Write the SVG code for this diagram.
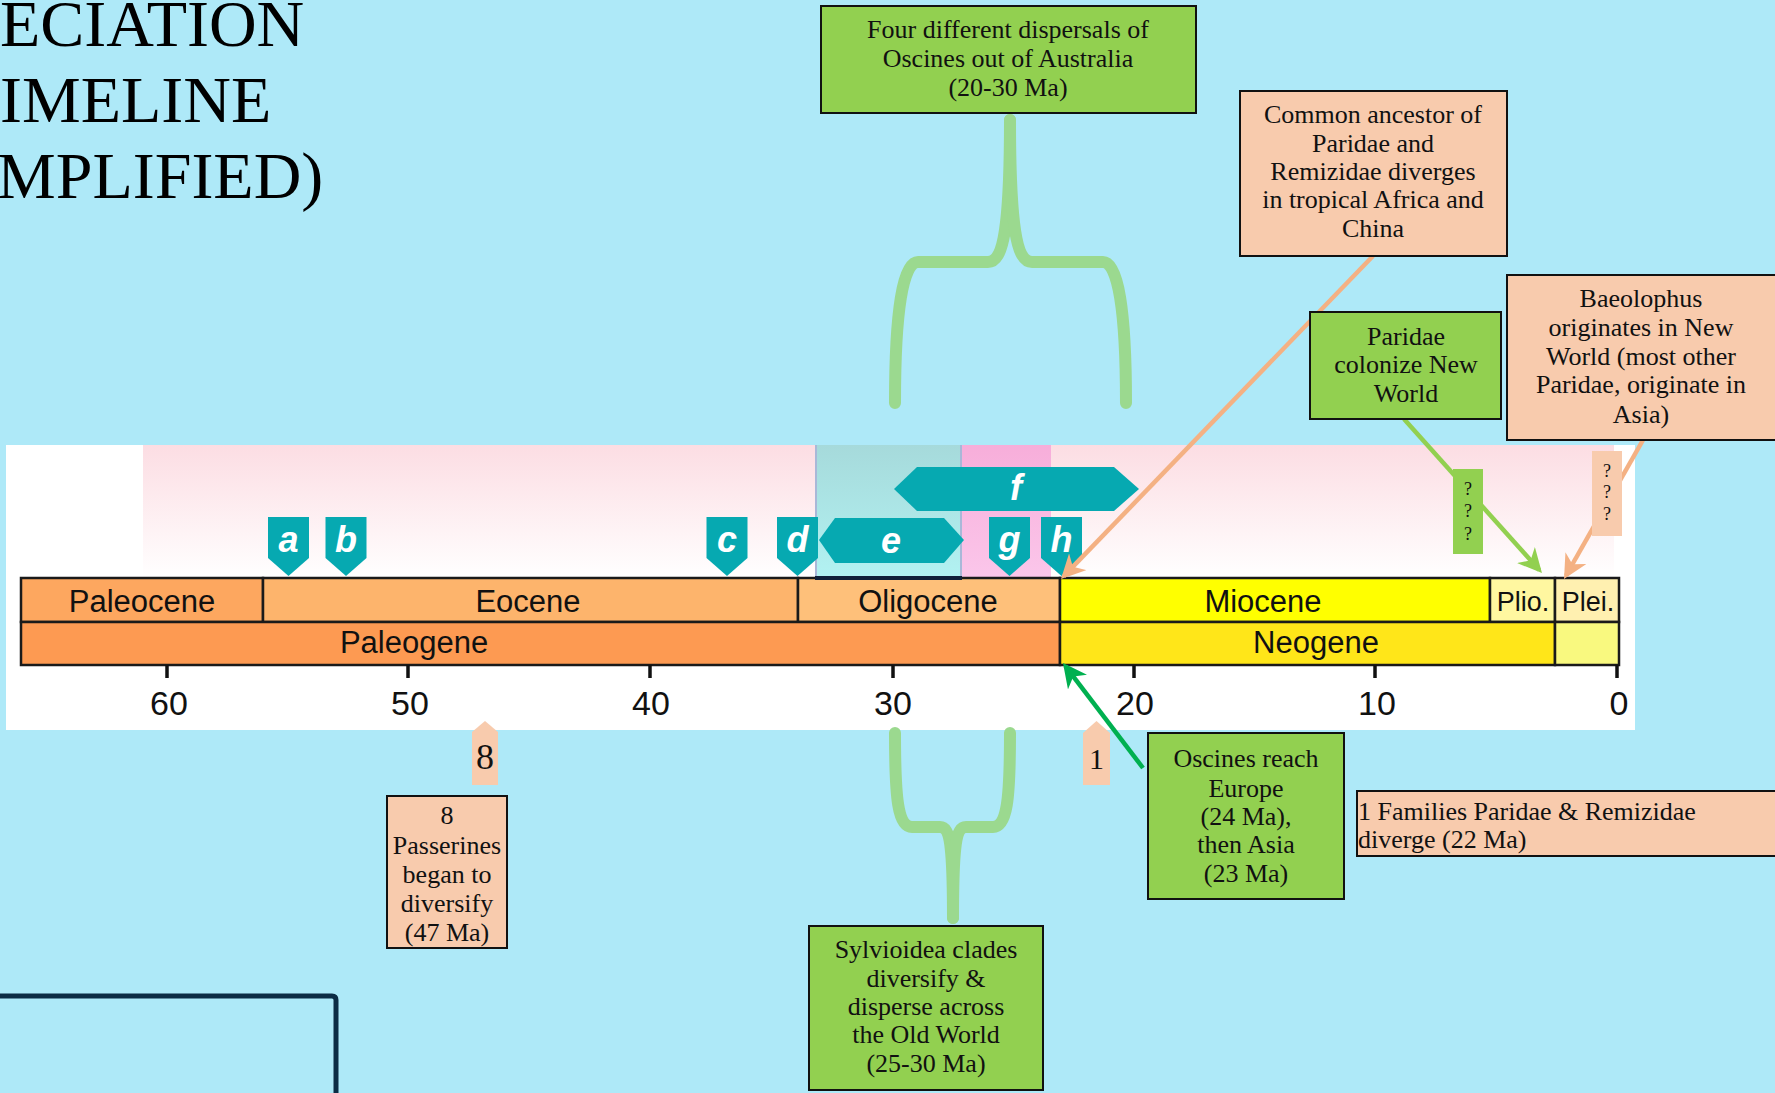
<svg xmlns="http://www.w3.org/2000/svg" width="1775" height="1093" viewBox="0 0 1775 1093">
<defs>
<style>
.title{font-family:"Liberation Serif",serif;font-size:66px;fill:#000}
.bx{font-family:"Liberation Serif",serif;font-size:26px;fill:#111;text-anchor:middle}
.q{font-family:"Liberation Serif",serif;font-size:18px;fill:#111;text-anchor:middle}
.ep{font-family:"Liberation Sans",Arial,sans-serif;font-size:31px;fill:#111;text-anchor:middle}
.eps{font-family:"Liberation Sans",Arial,sans-serif;font-size:27px;fill:#111;text-anchor:middle}
.tk{font-family:"Liberation Sans",Arial,sans-serif;font-size:34px;fill:#111;text-anchor:middle}
.lt{font-family:"Liberation Sans",Arial,sans-serif;font-size:36px;font-weight:bold;font-style:italic;fill:#fff;text-anchor:middle}
.green{fill:#92D050;stroke:#111;stroke-width:2}
.salmon{fill:#F8CBAD;stroke:#111;stroke-width:2}
.teal{fill:#06A9B1}
.cell{stroke:#1a1a1a;stroke-width:2.5}
.brace{fill:none;stroke:#9BD98F;stroke-width:12;stroke-linecap:round;stroke-linejoin:round}
</style>
<linearGradient id="pinkG" x1="0" y1="0" x2="0" y2="1">
<stop offset="0" stop-color="#FCDDE3"/><stop offset="1" stop-color="#FFFFFF"/>
</linearGradient>
<linearGradient id="cyanG" x1="0" y1="0" x2="0" y2="1">
<stop offset="0" stop-color="#A6DADB"/><stop offset="1" stop-color="#B2F2F2"/>
</linearGradient>
<linearGradient id="magG" x1="0" y1="0" x2="0" y2="1">
<stop offset="0" stop-color="#F7AEDA"/><stop offset="1" stop-color="#FBC6EA"/>
</linearGradient>
<path id="pentDown" d="M-20.5,0 H20.5 V41 L0,59 L-20.5,41 Z"/>
<marker id="arS" viewBox="0 0 24 24" refX="20" refY="12" markerWidth="24" markerHeight="24" markerUnits="userSpaceOnUse" orient="auto"><path d="M0,0 L24,12 L0,24 L7,12 Z" fill="#F4B183"/></marker>
<marker id="arG" viewBox="0 0 24 24" refX="20" refY="12" markerWidth="24" markerHeight="24" markerUnits="userSpaceOnUse" orient="auto"><path d="M0,0 L24,12 L0,24 L7,12 Z" fill="#92D050"/></marker>
<marker id="arD" viewBox="0 0 24 24" refX="20" refY="12" markerWidth="24" markerHeight="24" markerUnits="userSpaceOnUse" orient="auto"><path d="M0,0 L24,12 L0,24 L7,12 Z" fill="#00B050"/></marker>
</defs>
<rect x="0" y="0" width="1775" height="1093" fill="#AEE9F8"/>
<g id="title">
<text class="title" x="0" y="46">ECIATION</text>
<text class="title" x="0" y="122">IMELINE</text>
<text class="title" x="-3" y="198">MPLIFIED)</text>
</g>
<path d="M0,996 H332 Q336,996 336,1000 V1093" fill="none" stroke="#0B2C44" stroke-width="5"/>
<g id="timeline">
<rect x="6" y="445" width="1629" height="285" fill="#FFFFFF"/>
<rect x="143" y="445" width="1471" height="133" fill="url(#pinkG)"/>
<rect x="815" y="445" width="147" height="133" fill="url(#cyanG)"/>
<line x1="816" y1="445" x2="816" y2="578" stroke="#A9B8D8" stroke-width="2"/>
<line x1="961" y1="445" x2="961" y2="578" stroke="#A9B8D8" stroke-width="2"/>
<rect x="962" y="445" width="89" height="133" fill="url(#magG)"/>
<rect class="cell" x="21" y="578" width="242" height="44" fill="#FDA75F"/>
<rect class="cell" x="263" y="578" width="535" height="44" fill="#FDB46C"/>
<rect class="cell" x="798" y="578" width="262" height="44" fill="#FEC07A"/>
<rect class="cell" x="1060" y="578" width="430" height="44" fill="#FFFF00"/>
<rect class="cell" x="1490" y="578" width="65" height="44" fill="#FFF7A0"/>
<rect class="cell" x="1555" y="578" width="64" height="44" fill="#FFF0B0"/>
<rect class="cell" x="21" y="622" width="1039" height="43" fill="#FD9A52"/>
<rect class="cell" x="1060" y="622" width="495" height="43" fill="#FFE619"/>
<rect class="cell" x="1555" y="622" width="64" height="43" fill="#F9F97F"/>
<line x1="815" y1="578" x2="962" y2="578" stroke="#10203a" stroke-width="4"/>
<text class="ep" x="142" y="612">Paleocene</text>
<text class="ep" x="528" y="612">Eocene</text>
<text class="ep" x="928" y="612">Oligocene</text>
<text class="ep" x="1263" y="612">Miocene</text>
<text class="eps" x="1523" y="611">Plio.</text>
<text class="eps" x="1588" y="611">Plei.</text>
<text class="ep" x="414" y="653">Paleogene</text>
<text class="ep" x="1316" y="653">Neogene</text>
<g stroke="#111" stroke-width="3.5">
<line x1="167" y1="665" x2="167" y2="678"/>
<line x1="408" y1="665" x2="408" y2="678"/>
<line x1="650" y1="665" x2="650" y2="678"/>
<line x1="893" y1="665" x2="893" y2="678"/>
<line x1="1134" y1="665" x2="1134" y2="678"/>
<line x1="1375" y1="665" x2="1375" y2="678"/>
<line x1="1617" y1="665" x2="1617" y2="678"/>
</g>
<text class="tk" x="169" y="715">60</text>
<text class="tk" x="410" y="715">50</text>
<text class="tk" x="651" y="715">40</text>
<text class="tk" x="893" y="715">30</text>
<text class="tk" x="1135" y="715">20</text>
<text class="tk" x="1377" y="715">10</text>
<text class="tk" x="1619" y="715">0</text>
</g>
<g id="marker-a"><use href="#pentDown" class="teal" x="288.5" y="517"/><text class="lt" x="288.5" y="552">a</text></g>
<g id="marker-b"><use href="#pentDown" class="teal" x="346" y="517"/><text class="lt" x="346" y="552">b</text></g>
<g id="marker-c"><use href="#pentDown" class="teal" x="727" y="517"/><text class="lt" x="727" y="552">c</text></g>
<g id="marker-d"><use href="#pentDown" class="teal" x="797.5" y="517"/><text class="lt" x="797.5" y="552">d</text></g>
<g id="marker-e"><path class="teal" d="M819,540 L835,518 H944 L964,540 L944,563 H835 Z"/><text class="lt" x="891" y="553">e</text></g>
<g id="marker-f"><path class="teal" d="M894,489 L917,467 H1114 L1139,489 L1114,511 H917 Z"/><text class="lt" x="1016" y="500">f</text></g>
<g id="marker-g"><use href="#pentDown" class="teal" x="1009.5" y="517"/><text class="lt" x="1009.5" y="552">g</text></g>
<g id="marker-h"><use href="#pentDown" class="teal" x="1061.5" y="517"/><text class="lt" x="1061.5" y="552">h</text></g>
<g id="connectors">
<path class="brace" d="M895,403 C895,310 903,262 918,262 L988,262 C1003,262 1010,230 1010,120"/>
<path class="brace" d="M1126,403 C1126,310 1118,262 1103,262 L1032,262 C1017,262 1010,230 1010,120"/>
<path class="brace" d="M895,733 C895,800 898,827 912,827 L940,827 C950,827 953,845 953,918"/>
<path class="brace" d="M1010,733 C1010,800 1007,827 993,827 L966,827 C956,827 953,845 953,918"/>
<line x1="1373" y1="256" x2="1063.8" y2="576.1" stroke="#F4B183" stroke-width="4.5" marker-end="url(#arS)"/>
<line x1="1643" y1="440" x2="1566" y2="575.5" stroke="#F4B183" stroke-width="4.5" marker-end="url(#arS)"/>
<line x1="1404" y1="419" x2="1539.3" y2="570" stroke="#92D050" stroke-width="4.5" marker-end="url(#arG)"/>
<line x1="1143" y1="768" x2="1065.4" y2="666.2" stroke="#00B050" stroke-width="4.5" marker-end="url(#arD)"/>
</g>
<g id="box-four">
<rect class="green" x="821" y="6" width="375" height="107"/>
<text class="bx" x="1008" y="38">Four different dispersals of</text>
<text class="bx" x="1008" y="67">Oscines out of Australia</text>
<text class="bx" x="1008" y="96">(20-30 Ma)</text>
</g>
<g id="box-common">
<rect class="salmon" x="1240" y="91" width="267" height="165"/>
<text class="bx" x="1373" y="123">Common ancestor of</text>
<text class="bx" x="1373" y="152">Paridae and</text>
<text class="bx" x="1373" y="180">Remizidae diverges</text>
<text class="bx" x="1373" y="208">in tropical Africa and</text>
<text class="bx" x="1373" y="237">China</text>
</g>
<g id="box-paridae">
<rect class="green" x="1310" y="312" width="191" height="107"/>
<text class="bx" x="1406" y="345">Paridae</text>
<text class="bx" x="1406" y="373">colonize New</text>
<text class="bx" x="1406" y="402">World</text>
</g>
<g id="box-baeolophus">
<rect class="salmon" x="1507" y="275" width="280" height="165"/>
<text class="bx" x="1641" y="307">Baeolophus</text>
<text class="bx" x="1641" y="336">originates in New</text>
<text class="bx" x="1641" y="365">World (most other</text>
<text class="bx" x="1641" y="393">Paridae, originate in</text>
<text class="bx" x="1641" y="423">Asia)</text>
</g>
<g id="q-green">
<rect x="1453" y="469" width="30" height="85" fill="#92D050"/>
<text class="q" x="1468" y="495">?</text>
<text class="q" x="1468" y="517">?</text>
<text class="q" x="1468" y="540">?</text>
</g>
<g id="q-salmon">
<rect x="1592" y="451" width="30" height="85" fill="#F8CBAD"/>
<text class="q" x="1607" y="477">?</text>
<text class="q" x="1607" y="498">?</text>
<text class="q" x="1607" y="520">?</text>
</g>
<g id="marker-8">
<path d="M472,732 L485,721 L498,732 V785 H472 Z" fill="#F8CBAD"/>
<text class="bx" x="485" y="769" style="font-size:36px">8</text>
</g>
<g id="marker-1">
<path d="M1083,733 L1096.5,721 L1110,733 V785 H1083 Z" fill="#F8CBAD"/>
<text class="bx" x="1096.5" y="769" style="font-size:30px">1</text>
</g>
<g id="box-passerines">
<rect class="salmon" x="387" y="796" width="120" height="152"/>
<text class="bx" x="447" y="824">8</text>
<text class="bx" x="447" y="854">Passerines</text>
<text class="bx" x="447" y="883">began to</text>
<text class="bx" x="447" y="912">diversify</text>
<text class="bx" x="447" y="941">(47 Ma)</text>
</g>
<g id="box-sylvioidea">
<rect class="green" x="809" y="926" width="234" height="164"/>
<text class="bx" x="926" y="958">Sylvioidea clades</text>
<text class="bx" x="926" y="987">diversify &amp;</text>
<text class="bx" x="926" y="1015">disperse across</text>
<text class="bx" x="926" y="1043">the Old World</text>
<text class="bx" x="926" y="1072">(25-30 Ma)</text>
</g>
<g id="box-oscines">
<rect class="green" x="1148" y="733" width="196" height="166"/>
<text class="bx" x="1246" y="767">Oscines reach</text>
<text class="bx" x="1246" y="797">Europe</text>
<text class="bx" x="1246" y="825">(24 Ma),</text>
<text class="bx" x="1246" y="853">then Asia</text>
<text class="bx" x="1246" y="882">(23 Ma)</text>
</g>
<g id="box-families">
<rect class="salmon" x="1357" y="791" width="430" height="65"/>
<text class="bx" x="1358" y="820" style="text-anchor:start">1 Families Paridae &amp; Remizidae</text>
<text class="bx" x="1358" y="848" style="text-anchor:start">diverge (22 Ma)</text>
</g>
</svg>
